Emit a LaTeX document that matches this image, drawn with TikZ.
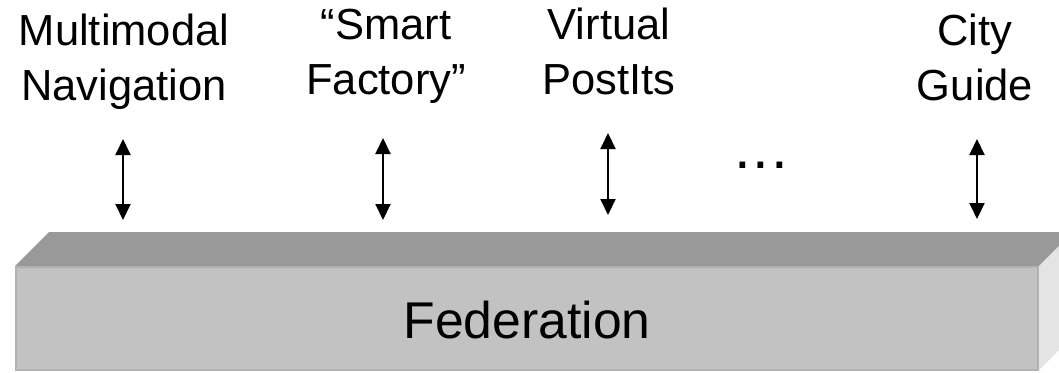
\documentclass[tikz,border=0pt]{standalone}
\usepackage{fontspec}
\setmainfont{Liberation Sans}
\usetikzlibrary{arrows.meta}

\definecolor{slabtop}{HTML}{999999}
\definecolor{slabfront}{HTML}{C2C2C2}
\definecolor{slabside}{HTML}{E4E4E4}
\definecolor{slabedge}{HTML}{B2B2B2}

\tikzset{
  applabel/.style={anchor=base, inner sep=0pt,
    font=\fontsize{43.5}{55}\selectfont},
  layerlabel/.style={anchor=base, inner sep=0pt,
    font=\fontsize{51.7}{60}\selectfont},
  link/.style={draw=black, line width=2pt,
    {Triangle[width=15pt,length=16pt]}-{Triangle[width=15pt,length=16pt]}},
}

\newcommand{\twolines}[2]{\begin{tabular}[t]{@{}c@{}}#1\\#2\end{tabular}}

\begin{document}
\begin{tikzpicture}[x=1pt,y=-1pt]
  \useasboundingbox (0,0) rectangle (1059,372);
  \clip (0,0) rectangle (1059,372);

  % federation slab: top, side and front faces
  \fill[slabtop] (15,266) -- (49,232) -- (1073,232) -- (1039,266) -- cycle;
  \fill[slabside] (1039,266) -- (1073,232) -- (1073,336) -- (1039,370) -- cycle;
  \fill[slabfront, draw=slabedge, line width=2pt] (16,267) rectangle (1038,370);
  \node[layerlabel] (fed) at (527,338) {Federation};

  % applications on top of the federation
  \node[applabel] (nav)  at (124,45) {\twolines{Multimodal}{Navigation}};
  \node[applabel] (fact) at (386,39) {\twolines{“Smart}{Factory”}};
  \node[applabel] (post) at (609,39) {\twolines{Virtual}{PostIts}};
  \node[applabel] (city) at (975,45) {\twolines{City}{Guide}};
  \node[anchor=base, inner sep=0pt, font=\fontsize{60}{60}\selectfont]
    (more) at (761,168) {.\kern2pt.\kern2pt.};

  % two-way links between each application and the federation
  \coordinate (navT)  at (123,139); \coordinate (navB)  at (123,220);
  \coordinate (factT) at (383,138); \coordinate (factB) at (383,220);
  \coordinate (postT) at (608,133); \coordinate (postB) at (608,215);
  \coordinate (cityT) at (977,139); \coordinate (cityB) at (977,219);
  \draw[link] (navT) -- (navB);
  \draw[link] (factT) -- (factB);
  \draw[link] (postT) -- (postB);
  \draw[link] (cityT) -- (cityB);
\end{tikzpicture}
\end{document}
